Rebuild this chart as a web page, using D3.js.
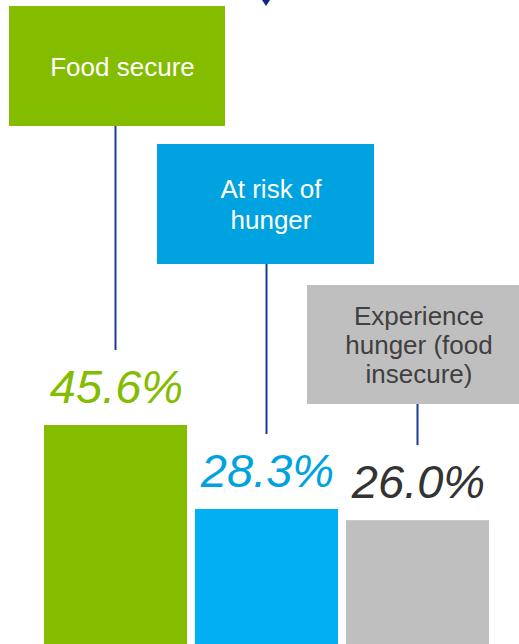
<!DOCTYPE html>
<html>
<head>
<meta charset="utf-8">
<script src="https://cdn.jsdelivr.net/npm/d3@7"></script>
<style>
  body { margin: 0; background: #fff; }
  svg { display: block; font-family: "Liberation Sans", Arial, sans-serif; }
</style>
</head>
<body>
<div id="chart"></div>
<script>
var categories = ['Food secure', 'At risk of\nhunger', 'Experience\nhunger (food\ninsecure)']
var values = [45.6, 28.3, 26.0]
var valueLabels = ['45.6%', '28.3%', '26.0%']

var barColors = ['#84bc00', '#00b0f0', '#bfbfbf']
var boxColors = ['#84bc00', '#00a3e0', '#bfbfbf']
var boxText = ['#fff', '#fff', '#404040']
var valueColors = ['#84bc00', '#00a3e0', '#333']
// label box layout: x, y, w, h
var boxes = [[9, 6, 216, 120], [157, 144, 217, 120], [307, 285, 213, 119]]

var width = 519, height = 644

var svg = d3.select('#chart').append('svg')
  .attr('width', width).attr('height', height)

var x = d3.scaleBand().domain(d3.range(3)).range([44, 489]).paddingInner(8 / 151).paddingOuter(0)
var y = d3.scaleLinear().domain([0, 45.6]).range([646.4, 425])

var line = '#1a3a96'

// arrow tip coming from above
svg.append('path')
  .attr('d', d3.line()([[262, 0], [270, 0], [266, 6]]) + 'Z')
  .attr('fill', '#0f2a80')

svg.selectAll('rect.bar').data(values).join('rect')
  .attr('class', 'bar')
  .attr('x', (d, i) => x(i))
  .attr('y', d => y(d))
  .attr('width', x.bandwidth())
  .attr('height', d => y(0) - y(d))
  .attr('fill', (d, i) => barColors[i])

svg.selectAll('line.conn').data(values).join('line')
  .attr('class', 'conn')
  .attr('x1', (d, i) => x(i) + x.bandwidth() / 2)
  .attr('x2', (d, i) => x(i) + x.bandwidth() / 2)
  .attr('y1', (d, i) => boxes[i][1] + boxes[i][3])
  .attr('y2', d => y(d) - 75)
  .attr('stroke', line).attr('stroke-width', 2)

svg.selectAll('rect.box').data(boxes).join('rect')
  .attr('class', 'box')
  .attr('x', d => d[0]).attr('y', d => d[1])
  .attr('width', d => d[2]).attr('height', d => d[3])
  .attr('fill', (d, i) => boxColors[i])

categories.forEach(function(c, i) {
  var b = boxes[i]
  var lines = c.split('\n')
  var cx = b[0] + b[2] / 2 + 5.5, cy = b[1] + b[3] / 2 + 9.5
  var lh = lines.length == 2 ? 31 : 29
  svg.append('text')
    .attr('text-anchor', 'middle')
    .attr('font-size', 26)
    .attr('fill', boxText[i])
    .selectAll('tspan').data(lines).join('tspan')
    .attr('x', cx)
    .attr('y', (d, j) => cy + (j - (lines.length - 1) / 2) * lh)
    .text(d => d)
})

svg.selectAll('text.val').data(values).join('text')
  .attr('class', 'val')
  .attr('x', (d, i) => x(i) + x.bandwidth() / 2 + 1)
  .attr('y', d => y(d) - 22)
  .attr('text-anchor', 'middle')
  .attr('font-size', 47)
  .attr('font-style', 'italic')
  .attr('fill', (d, i) => valueColors[i])
  .text((d, i) => valueLabels[i])
</script>
</body>
</html>
